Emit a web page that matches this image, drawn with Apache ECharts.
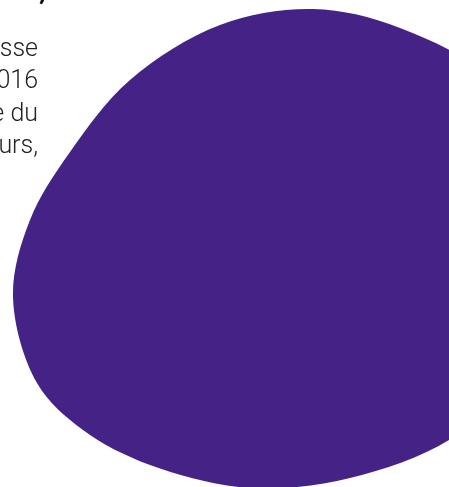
<!DOCTYPE html>
<html>
<head>
<meta charset="utf-8">
<script src="https://cdn.jsdelivr.net/npm/echarts@6/dist/echarts.min.js"></script>
<style>
html,body{margin:0;padding:0;background:#fff;}
#chart{width:449px;height:487px;}
</style>
</head>
<body>
<div id="chart"></div>
<script>
// Outline of the blob (x, y in chart units; y grows downward), clockwise from the top
const blobX = [313, 400, 490, 540, 545, 510, 449, 350, 250, 150, 83, 37, 13, 30, 70, 130, 220];
const blobY = [9, 28, 80, 180, 290, 385, 440, 478, 488, 465, 430, 383, 297, 220, 152, 80, 25];
const textLines = ['hausse', '2016', 'ée du', 'jours,'];
const titleText = ',';

const chart = echarts.init(document.getElementById('chart'), null, {renderer: 'canvas'});
const pts = blobX.map((x, i) => [x, blobY[i]]);

// closed centripetal Catmull-Rom spline converted to cubic Bezier segments
function closedCentripetal(p) {
  const n = p.length;
  const dist = (a, b) => Math.pow(Math.hypot(b[0] - a[0], b[1] - a[1]), 0.5) || 1e-4;
  let d = 'M' + p[0][0] + ' ' + p[0][1];
  for (let i = 0; i < n; i++) {
    const P0 = p[(i - 1 + n) % n], P1 = p[i], P2 = p[(i + 1) % n], P3 = p[(i + 2) % n];
    const d0 = dist(P0, P1), d1 = dist(P1, P2), d2 = dist(P2, P3);
    const m1 = [0, 1].map(k => ((P1[k] - P0[k]) / d0 - (P2[k] - P0[k]) / (d0 + d1) + (P2[k] - P1[k]) / d1) * d1);
    const m2 = [0, 1].map(k => ((P2[k] - P1[k]) / d1 - (P3[k] - P1[k]) / (d1 + d2) + (P3[k] - P2[k]) / d2) * d1);
    const c1 = [P1[0] + m1[0] / 3, P1[1] + m1[1] / 3];
    const c2 = [P2[0] - m2[0] / 3, P2[1] - m2[1] / 3];
    d += 'C' + c1[0] + ' ' + c1[1] + ' ' + c2[0] + ' ' + c2[1] + ' ' + P2[0] + ' ' + P2[1];
  }
  return d + 'Z';
}

chart.setOption({
  animation: false,
  grid: {left: 0, right: 0, top: 0, bottom: 0},
  xAxis: {type: 'value', min: 0, max: 449, show: false},
  yAxis: {type: 'value', min: 0, max: 487, inverse: true, show: false},
  series: [{
    type: 'custom',
    coordinateSystem: 'cartesian2d',
    data: [0],
    clip: false,
    renderItem: function (params, api) {
      const points = pts.map(p => api.coord(p));
      return {
        type: 'path',
        shape: {pathData: closedCentripetal(points)},
        style: {fill: '#452386'}
      };
    }
  }],
  graphic: [
    {
      type: 'text',
      x: 38,
      y: 33,
      z: 10,
      style: {
        text: textLines.join('\n'),
        align: 'right',
        verticalAlign: 'top',
        fontFamily: 'Roboto',
        fontWeight: 300,
        fontSize: 25,
        lineHeight: 32.5,
        fill: '#222222'
      }
    },
    {
      type: 'text',
      x: 46,
      y: -8,
      z: 10,
      style: {
        text: titleText,
        align: 'right',
        verticalAlign: 'middle',
        fontFamily: 'Roboto',
        fontWeight: 700,
        fontSize: 28,
        fill: '#111111'
      }
    }
  ]
});
</script>
</body>
</html>
